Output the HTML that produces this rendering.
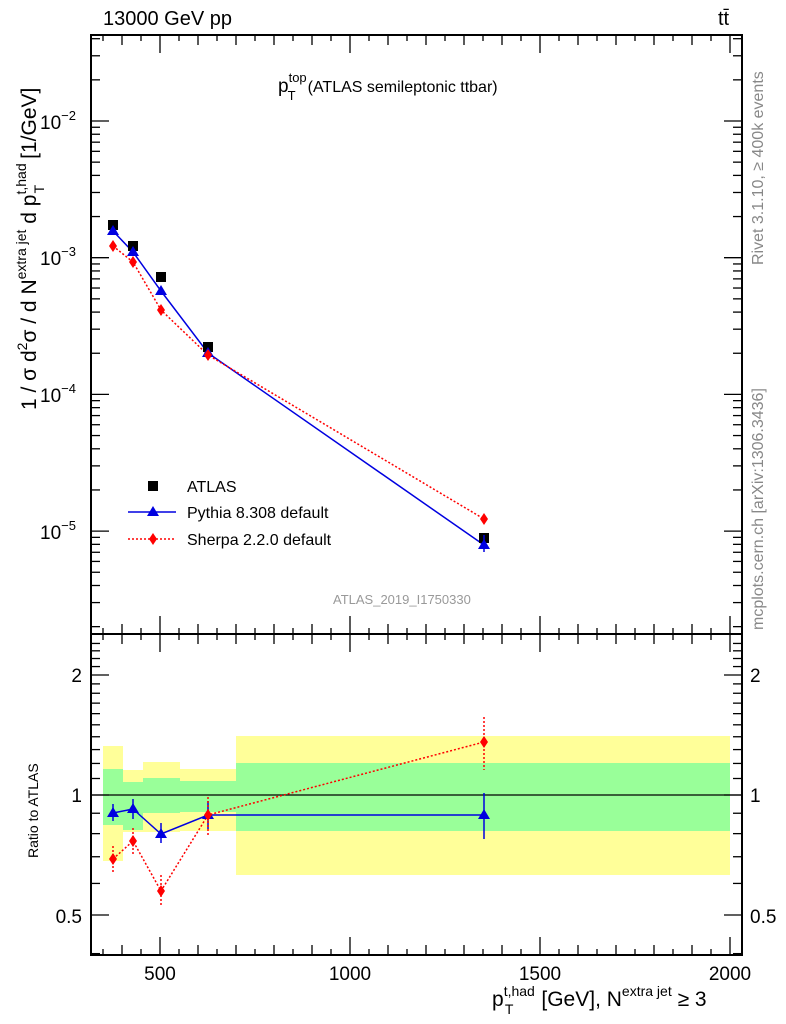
<!DOCTYPE html>
<html><head><meta charset="utf-8"><style>
body{margin:0;background:#fff}
svg{display:block;font-family:"Liberation Sans",sans-serif}
</style></head><body>
<svg id="s" width="786" height="1024" xmlns="http://www.w3.org/2000/svg">
<g id="bands"></g>
<line x1="91" y1="795" x2="742" y2="795" stroke="#000" stroke-width="1.3"/>
<g id="ticks" stroke="#000" stroke-width="1.3"></g>
<rect x="91" y="35" width="651" height="599" fill="none" stroke="#000" stroke-width="2"/>
<rect x="91" y="634" width="651" height="321" fill="none" stroke="#000" stroke-width="2"/>

<polyline points="113,231 133,252 161,291 208,353 484,545" fill="none" stroke="#0000e0" stroke-width="1.5"/>
<polyline points="113,246 133,262 161,310 208,355 484,519" fill="none" stroke="#f00" stroke-width="1.5" stroke-dasharray="2,2"/>
<g fill="#000">
<rect x="108" y="220" width="10" height="10"/><rect x="128" y="241" width="10" height="10"/><rect x="156" y="272" width="10" height="10"/><rect x="203" y="342" width="10" height="10"/><rect x="479" y="533" width="10" height="10"/>
</g>
<g fill="#0000e0">
<path d="M113,225 l6,10 h-12z M133,246 l6,10 h-12z M161,285 l6,10 h-12z M208,347 l6,10 h-12z M484,539 l6,10 h-12z"/>
<line x1="484" y1="535" x2="484" y2="552" stroke="#0000e0" stroke-width="1.5"/>
</g>
<g fill="#f00">
<path d="M113,240 l4,6 l-4,6 l-4,-6z M133,256 l4,6 l-4,6 l-4,-6z M161,304 l4,6 l-4,6 l-4,-6z M208,349 l4,6 l-4,6 l-4,-6z M484,513 l4,6 l-4,6 l-4,-6z"/>
</g>

<polyline points="113,813 133,809 161,834 208,815 484,815" fill="none" stroke="#0000e0" stroke-width="1.5"/>
<polyline points="113,859 133,841 161,891 208,815 484,742" fill="none" stroke="#f00" stroke-width="1.5" stroke-dasharray="2,2"/>
<g stroke="#0000e0" stroke-width="1.5">
<line x1="113" y1="804" x2="113" y2="821"/><line x1="133" y1="799" x2="133" y2="819"/><line x1="161" y1="823" x2="161" y2="843"/><line x1="208" y1="801" x2="208" y2="829"/><line x1="484" y1="793" x2="484" y2="839"/>
</g>
<g stroke="#f00" stroke-width="1.5" stroke-dasharray="2,2">
<line x1="113" y1="846" x2="113" y2="872"/><line x1="133" y1="828" x2="133" y2="856"/><line x1="161" y1="875" x2="161" y2="907"/><line x1="208" y1="797" x2="208" y2="835"/><line x1="484" y1="717" x2="484" y2="770"/>
</g>
<path fill="#0000e0" d="M113,807 l6,10 h-12z M133,803 l6,10 h-12z M161,828 l6,10 h-12z M208,809 l6,10 h-12z M484,809 l6,10 h-12z"/>
<path fill="#f00" d="M113,853 l4,6 l-4,6 l-4,-6z M133,835 l4,6 l-4,6 l-4,-6z M161,885 l4,6 l-4,6 l-4,-6z M208,809 l4,6 l-4,6 l-4,-6z M484,736 l4,6 l-4,6 l-4,-6z"/>

<rect x="148" y="481" width="10" height="10" fill="#000"/>
<text x="187" y="492" font-size="16">ATLAS</text>
<line x1="128" y1="512" x2="176" y2="512" stroke="#0000e0" stroke-width="1.5"/>
<path d="M153,506 l6,10 h-12z" fill="#0000e0"/>
<text x="187" y="518" font-size="16">Pythia 8.308 default</text>
<line x1="128" y1="539" x2="176" y2="539" stroke="#f00" stroke-width="1.5" stroke-dasharray="2,2"/>
<path d="M153,533 l4,6 l-4,6 l-4,-6z" fill="#f00"/>
<text x="187" y="545" font-size="16">Sherpa 2.2.0 default</text>

<text x="103" y="25" font-size="20">13000 GeV pp</text>
<text x="718" y="25" font-size="20">tt̄</text>
<text x="278" y="92" font-size="19">p<tspan font-size="13" dy="-10">top</tspan><tspan font-size="13" dx="-19" dy="18">T</tspan><tspan font-size="16" dx="12" dy="-8">(ATLAS semileptonic ttbar)</tspan></text>
<text x="333" y="604" font-size="13" fill="#999">ATLAS_2019_I1750330</text>
<text font-size="16" fill="#888" transform="translate(763,265) rotate(-90)">Rivet 3.1.10, ≥ 400k events</text>
<text font-size="16" fill="#888" transform="translate(763,630) rotate(-90)">mcplots.cern.ch [arXiv:1306.3436]</text>
<text font-size="21" transform="translate(36,410) rotate(-90)">1 / σ d<tspan font-size="14" dy="-9">2</tspan><tspan dy="9">σ / d N</tspan><tspan font-size="14" dy="-10">extra jet</tspan><tspan dy="10"> d p</tspan><tspan font-size="14" dy="-10">t,had</tspan><tspan font-size="14" dx="-30" dy="18">T</tspan><tspan dx="26" dy="-8">[1/GeV]</tspan></text>
<text font-size="14" transform="translate(38,858) rotate(-90)">Ratio to ATLAS</text>
<text x="492" y="1006" font-size="21">p<tspan font-size="14" dy="-10">t,had</tspan><tspan font-size="14" dx="-30" dy="18">T</tspan><tspan dx="28" dy="-8">[GeV], N</tspan><tspan font-size="14" dy="-10">extra jet</tspan><tspan dy="10"> ≥ 3</tspan></text>
<g font-size="19" text-anchor="middle">
<text x="160" y="980">500</text><text x="350" y="980">1000</text><text x="540" y="980">1500</text><text x="730" y="980">2000</text>
</g>
<g font-size="19" text-anchor="end">
<text x="82" y="682">2</text><text x="82" y="802">1</text><text x="82" y="923">0.5</text>
</g>
<g font-size="19">
<text x="750" y="682">2</text><text x="750" y="802">1</text><text x="750" y="923">0.5</text>
</g>
<g font-size="19" text-anchor="end">
<text x="76" y="129">10<tspan font-size="13" dy="-9">−2</tspan></text>
<text x="76" y="265">10<tspan font-size="13" dy="-9">−3</tspan></text>
<text x="76" y="402">10<tspan font-size="13" dy="-9">−4</tspan></text>
<text x="76" y="539">10<tspan font-size="13" dy="-9">−5</tspan></text>
</g>
</svg>
<script>
var NS="http://www.w3.org/2000/svg";
function el(p,t,a){var e=document.createElementNS(NS,t);for(var k in a)e.setAttribute(k,a[k]);p.appendChild(e);return e;}
var b=document.getElementById("bands"),tk=document.getElementById("ticks");
var Y="#ffff99",G="#99ff99";
[[103,123,746,861,769,825],[123,143,770,832,782,830],[143,180,762,832,778,813],[180,236,769,831,781,812],[236,730,736,875,763,831]].forEach(function(r){
el(b,"rect",{x:r[0],y:r[2],width:r[1]-r[0],height:r[3]-r[2],fill:Y});
el(b,"rect",{x:r[0],y:r[4],width:r[1]-r[0],height:r[5]-r[4],fill:G});});
function X(v){return 160+(v-500)*0.38;}
for(var v=350;v<=2050;v+=50){var x=X(v);if(x<92||x>741)continue;var L=(v%500==0)?18:(v%100==0?10:6);
[[634,-1],[955,-1],[35,1],[634,1]].forEach(function(p){el(tk,"line",{x1:x,x2:x,y1:p[0],y2:p[0]+p[1]*L});});}
function ly(lv,y0,ppd,top,bot){for(var d=-7;d<2;d++){for(var m=1;m<10;m++){var y=y0-ppd*(d+Math.log10(m));if(y<top||y>bot)continue;var L=m==1?18:9;
el(tk,"line",{x1:91,x2:91+L,y1:y,y2:y});el(tk,"line",{x1:742,x2:742-L,y1:y,y2:y});}}}
ly(0,121,136.7,36,633);
for(var r=0.4;r<=2.45;r+=0.1){var y=795-398.6*Math.log10(r);if(y<635||y>954)continue;var rr=Math.round(r*10)/10;var L=(rr==0.5||rr==1||rr==2)?18:9;
el(tk,"line",{x1:91,x2:91+L,y1:y,y2:y});el(tk,"line",{x1:742,x2:742-L,y1:y,y2:y});}
</script>
</body></html>
